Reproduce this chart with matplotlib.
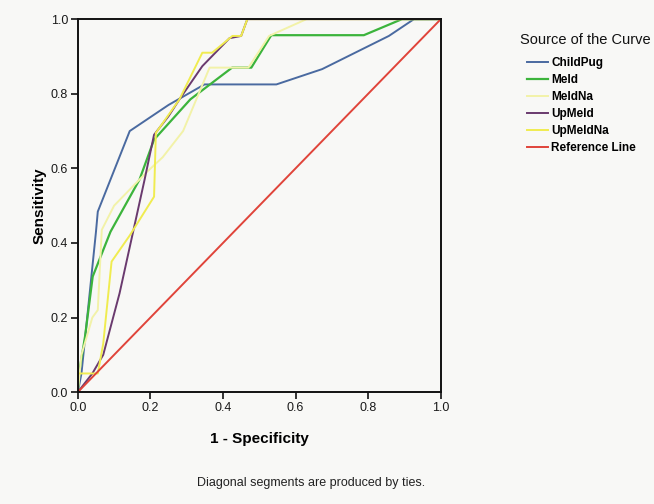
import matplotlib
matplotlib.use("Agg")
import matplotlib.pyplot as plt

matplotlib.rcParams["font.family"] = ["Liberation Sans", "DejaVu Sans"]

# ROC curves (1 - specificity, sensitivity)
childpug_x = [0, 0.01, 0.05, 0.055, 0.143, 0.25, 0.349, 0.547, 0.673, 0.857, 0.926, 1.0]
childpug_y = [0, 0.05, 0.43, 0.484, 0.70, 0.77, 0.825, 0.825, 0.866, 0.955, 1.0, 1.0]

meld_x = [0, 0.005, 0.02, 0.041, 0.09, 0.17, 0.21, 0.31, 0.425, 0.478, 0.533, 0.788, 0.893, 1.0]
meld_y = [0, 0.06, 0.15, 0.31, 0.43, 0.57, 0.677, 0.785, 0.87, 0.87, 0.957, 0.957, 1.0, 1.0]

meldna_x = [0, 0.01, 0.04, 0.055, 0.066, 0.10, 0.19, 0.234, 0.29, 0.363, 0.47, 0.527, 0.63, 1.0]
meldna_y = [0, 0.10, 0.20, 0.22, 0.435, 0.50, 0.59, 0.63, 0.70, 0.87, 0.87, 0.955, 1.0, 1.0]

upmeld_x = [0, 0.04, 0.07, 0.115, 0.184, 0.21, 0.25, 0.28, 0.343, 0.418, 0.45, 0.467, 1.0]
upmeld_y = [0, 0.05, 0.10, 0.265, 0.57, 0.69, 0.74, 0.785, 0.874, 0.949, 0.955, 1.0, 1.0]

upmeldna_x = [0, 0, 0.055, 0.07, 0.093, 0.143, 0.21, 0.215, 0.28, 0.343, 0.37, 0.426, 0.45, 0.467, 1.0]
upmeldna_y = [0, 0.05, 0.05, 0.13, 0.35, 0.42, 0.524, 0.695, 0.785, 0.91, 0.91, 0.955, 0.955, 1.0, 1.0]

ref_x = [0, 1]
ref_y = [0, 1]

fig = plt.figure(figsize=(6.54, 5.04), dpi=100, facecolor="#f8f8f6")
ax = fig.add_axes([0.119, 0.222, 0.555, 0.740])
ax.set_facecolor("#f8f8f6")

ax.plot(childpug_x, childpug_y, c="#4a6aa0", lw=1.4, label="ChildPug")
ax.plot(meld_x, meld_y, c="#3cb43c", lw=1.6, label="Meld")
ax.plot(meldna_x, meldna_y, c="#f2f2a8", lw=1.4, label="MeldNa")
ax.plot(upmeld_x, upmeld_y, c="#6a3a6e", lw=1.4, label="UpMeld")
ax.plot(upmeldna_x, upmeldna_y, c="#f0ec50", lw=1.4, label="UpMeldNa")
ax.plot(ref_x, ref_y, c="#e0443a", lw=1.4, label="Reference Line")

ax.set_xlim(0, 1)
ax.set_ylim(0, 1)
ticks = [0.0, 0.2, 0.4, 0.6, 0.8, 1.0]
ax.set_xticks(ticks)
ax.set_yticks(ticks)
ax.set_xticklabels(["0.0", "0.2", "0.4", "0.6", "0.8", "1.0"], fontsize=9)
ax.set_yticklabels(["0.0", "0.2", "0.4", "0.6", "0.8", "1.0"], fontsize=9)
ax.tick_params(length=5, width=1.2, color="#111111", labelcolor="#1a1a1a", pad=2)
for s in ax.spines.values():
    s.set_linewidth(1.4)
    s.set_color("#111111")

ax.set_xlabel("1 - Specificity", fontsize=11, fontweight="bold", labelpad=13)
ax.set_ylabel("Sensitivity", fontsize=11, fontweight="bold", labelpad=3)

fig.text(0.795, 0.921, "Source of the Curve", fontsize=10.5, ha="left", va="center",
         color="#111111")
leg = fig.legend(loc="upper left", bbox_to_anchor=(0.806, 0.886), frameon=False,
                 fontsize=8.5, handlelength=1.8, handletextpad=0.25,
                 labelspacing=0.42, borderaxespad=0, borderpad=0)
for t in leg.get_texts():
    t.set_fontweight("bold")

fig.text(0.475, 0.042, "Diagonal segments are produced by ties.", fontsize=9,
         ha="center", va="center", color="#222222")

fig.savefig("out.png", dpi=100, facecolor=fig.get_facecolor())
